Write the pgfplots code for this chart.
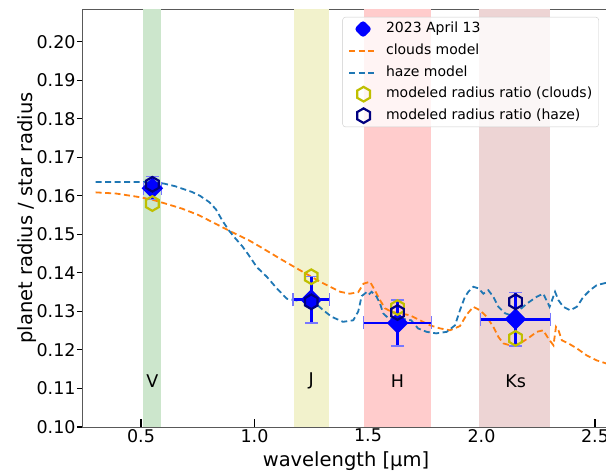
\documentclass[border=0pt]{standalone}
\usepackage{fontspec}
\setmainfont{DejaVu Sans}
\usepackage{pgfplots}
\pgfplotsset{compat=1.18}

\definecolor{cloudsorange}{HTML}{FF7F0E}
\definecolor{hazeblue}{HTML}{1F77B4}
\definecolor{hexyellow}{RGB}{191,191,0}
\definecolor{hexnavy}{RGB}{0,0,128}
\definecolor{bandV}{RGB}{204,230,204}
\definecolor{bandJ}{RGB}{242,242,204}
\definecolor{bandH}{RGB}{255,204,204}
\definecolor{bandK}{RGB}{237,212,212}
\definecolor{capblue}{RGB}{120,120,255}

% open hexagon, vertex pointing up
\pgfdeclareplotmark{hexagon}{%
  \pgfpathmoveto{\pgfqpointpolar{90}{\pgfplotmarksize}}%
  \pgfpathlineto{\pgfqpointpolar{150}{\pgfplotmarksize}}%
  \pgfpathlineto{\pgfqpointpolar{210}{\pgfplotmarksize}}%
  \pgfpathlineto{\pgfqpointpolar{270}{\pgfplotmarksize}}%
  \pgfpathlineto{\pgfqpointpolar{330}{\pgfplotmarksize}}%
  \pgfpathlineto{\pgfqpointpolar{30}{\pgfplotmarksize}}%
  \pgfpathclose
  \pgfusepathqstroke
}

% observed radius ratio, 2023 April 13
\pgfplotstableread{
x     y      ex     ey
0.55  0.162  0.040  0.003
1.25  0.133  0.080  0.006
1.63  0.127  0.150  0.006
2.15  0.128  0.155  0.007
}\observed

\pgfplotstableread{
x     y
0.55  0.158
1.25  0.139
1.63  0.131
2.15  0.123
}\modclouds

\pgfplotstableread{
x     y
0.55  0.163
1.25  0.1325
1.63  0.1297
2.15  0.1325
}\modhaze

\pgfplotstableread{
x      y
0.300  0.1609
0.390  0.1606
0.490  0.1597
0.550  0.1590
0.607  0.1580
0.680  0.1567
0.754  0.1550
0.827  0.1528
0.900  0.1506
0.974  0.1485
1.030  0.1466
1.112  0.1437
1.200  0.1407
1.289  0.1377
1.377  0.1351
1.420  0.1346
1.457  0.1350
1.480  0.1372
1.509  0.1377
1.530  0.1355
1.553  0.1329
1.575  0.1308
1.604  0.1299
1.640  0.1295
1.685  0.1290
1.729  0.1277
1.773  0.1264
1.817  0.1256
1.861  0.1251
1.905  0.1262
1.935  0.1292
1.964  0.1312
1.993  0.1303
2.023  0.1286
2.052  0.1260
2.074  0.1234
2.096  0.1217
2.126  0.1212
2.170  0.1217
2.214  0.1234
2.243  0.1247
2.272  0.1251
2.294  0.1230
2.317  0.1212
2.328  0.1260
2.339  0.1251
2.354  0.1225
2.383  0.1217
2.420  0.1204
2.463  0.1186
2.507  0.1173
2.560  0.1163
}\cloudsmodel

\pgfplotstableread{
x      y
0.300  0.1636
0.400  0.1636
0.500  0.1636
0.550  0.1635
0.600  0.1632
0.650  0.1625
0.700  0.1615
0.725  0.1610
0.760  0.1600
0.800  0.1584
0.830  0.1565
0.857  0.1537
0.886  0.1511
0.915  0.1490
0.945  0.1470
0.970  0.1450
1.010  0.1415
1.054  0.1390
1.098  0.1360
1.142  0.1333
1.190  0.1328
1.237  0.1332
1.270  0.1320
1.303  0.1303
1.340  0.1286
1.390  0.1273
1.435  0.1277
1.457  0.1300
1.472  0.1340
1.490  0.1348
1.500  0.1342
1.516  0.1351
1.538  0.1338
1.553  0.1320
1.567  0.1295
1.590  0.1282
1.620  0.1280
1.660  0.1280
1.690  0.1277
1.720  0.1256
1.758  0.1247
1.800  0.1243
1.847  0.1247
1.883  0.1264
1.905  0.1303
1.927  0.1338
1.942  0.1351
1.964  0.1364
1.986  0.1360
2.008  0.1346
2.030  0.1355
2.052  0.1338
2.074  0.1312
2.104  0.1295
2.130  0.1290
2.160  0.1300
2.199  0.1320
2.243  0.1338
2.272  0.1346
2.300  0.1312
2.324  0.1351
2.339  0.1329
2.360  0.1312
2.390  0.1303
2.420  0.1312
2.449  0.1338
2.478  0.1355
2.507  0.1368
2.560  0.1376
}\hazemodel

\begin{document}
\begin{tikzpicture}
\useasboundingbox (0,0) rectangle (606bp,475bp);
\begin{axis}[
  at={(82bp,48bp)}, anchor=south west,
  scale only axis, width=528bp, height=418bp,
  xmin=0.24, xmax=2.566, ymin=0.10, ymax=0.2085,
  axis line style={black!65, line width=0.9bp},
  tick pos=left,
  xtick={0.5,1.0,1.5,2.0,2.5},
  ytick={0.10,0.11,...,0.205},
  xtick align=inside, ytick align=outside,
  major tick style={black, line width=1.1bp},
  xtick style={/pgfplots/major tick length=8bp},
  ytick style={/pgfplots/major tick length=5bp},
  /pgf/number format/assume math mode=true,
  xticklabel style={/pgf/number format/.cd, fixed, fixed zerofill, precision=1},
  yticklabel style={/pgf/number format/.cd, fixed, fixed zerofill, precision=2},
  tick label style={font=\fontsize{17.5bp}{21bp}\selectfont, inner sep=2bp},
  label style={font=\fontsize{19.5bp}{23bp}\selectfont},
  xlabel style={yshift=-4bp},
  ylabel shift=-5bp,
  xlabel={wavelength [µm]},
  ylabel={planet radius / star radius},
  legend cell align=left,
  legend style={
    at={(rel axis cs:0.979,0.981)}, anchor=north east,
    font=\fontsize{14bp}{16bp}\selectfont,
    draw=black!20, rounded corners=3bp,
    fill=white, fill opacity=0.8, text opacity=1,
    inner xsep=5bp, inner ysep=3bp,
    row sep=5bp,
    nodes={inner sep=1.5bp, text height=10.5bp, text depth=3bp},
  },
]

% photometric bands
\addplot[draw=none, fill=bandV, forget plot] coordinates {(0.507,0.10) (0.588,0.10) (0.588,0.2085) (0.507,0.2085)} -- cycle;
\addplot[draw=none, fill=bandJ, forget plot] coordinates {(1.173,0.10) (1.330,0.10) (1.330,0.2085) (1.173,0.2085)} -- cycle;
\addplot[draw=none, fill=bandH, forget plot] coordinates {(1.481,0.10) (1.776,0.10) (1.776,0.2085) (1.481,0.2085)} -- cycle;
\addplot[draw=none, fill=bandK, forget plot] coordinates {(1.989,0.10) (2.300,0.10) (2.300,0.2085) (1.989,0.2085)} -- cycle;

\node[font=\fontsize{17.5bp}{21bp}\selectfont] at (axis cs:0.55,0.112) {V};
\node[font=\fontsize{17.5bp}{21bp}\selectfont] at (axis cs:1.25,0.112) {J};
\node[font=\fontsize{17.5bp}{21bp}\selectfont] at (axis cs:1.63,0.112) {H};
\node[font=\fontsize{17.5bp}{21bp}\selectfont] at (axis cs:2.15,0.112) {Ks};

% model spectra
\addplot[cloudsorange, line width=1.8bp, dash pattern=on 6bp off 3.5bp, forget plot] table[x=x,y=y] {\cloudsmodel};
\addplot[hazeblue, line width=1.8bp, dash pattern=on 6bp off 3.5bp, forget plot] table[x=x,y=y] {\hazemodel};

% observations
\addplot[blue, line width=2.6bp, only marks, mark=square*, mark size=6.3bp,
  mark options={rotate=45, draw=none, fill=blue},
  forget plot,
  error bars/.cd, x dir=both, x explicit, y dir=both, y explicit,
  error bar style={line width=2.8bp, color=blue, solid},
  error mark options={rotate=90, line width=1.3bp, mark size=6.5bp, color=capblue}]
  table[x=x, y=y, x error=ex, y error=ey] {\observed};

% modelled radius ratios
\addplot[hexyellow, only marks, mark=hexagon, mark size=7.3bp, mark options={line width=2.2bp}, forget plot] table[x=x,y=y] {\modclouds};
\addplot[hexnavy, only marks, mark=hexagon, mark size=7.3bp, mark options={line width=2.2bp}, forget plot] table[x=x,y=y] {\modhaze};

% legend entries (the invisible path fixes the width of the image column)
\addlegendimage{legend image code/.code={\path[draw=none, fill=none] (0,0) -- (37bp,0); \fill[blue, fill opacity=1, draw=none] (15.5bp,0) ++(0,8.9bp) -- ++(8.9bp,-8.9bp) -- ++(-8.9bp,-8.9bp) -- ++(-8.9bp,8.9bp) -- cycle;}}
\addlegendentry{2023 April 13}
\addlegendimage{legend image code/.code={\path[draw=none, fill=none] (0,0) -- (37bp,0); \draw[cloudsorange, draw opacity=1, line width=2bp, dash pattern=on 6bp off 3.5bp] (1.5bp,0.5bp) -- (28.5bp,0.5bp);}}
\addlegendentry{clouds model}
\addlegendimage{legend image code/.code={\path[draw=none, fill=none] (0,0) -- (37bp,0); \draw[hazeblue, draw opacity=1, line width=2bp, dash pattern=on 6bp off 3.5bp] (1.5bp,0) -- (28.5bp,0);}}
\addlegendentry{haze model}
\addlegendimage{legend image code/.code={\path[draw=none, fill=none] (0,0) -- (37bp,0); \draw[hexyellow, draw opacity=1, line width=2.2bp] plot[mark=hexagon, mark size=7.3bp] coordinates {(16bp,0)};}}
\addlegendentry{modeled radius ratio (clouds)}
\addlegendimage{legend image code/.code={\path[draw=none, fill=none] (0,0) -- (37bp,0); \draw[hexnavy, draw opacity=1, line width=2.2bp] plot[mark=hexagon, mark size=7.3bp] coordinates {(16bp,0)};}}
\addlegendentry{modeled radius ratio (haze)}
\end{axis}
\end{tikzpicture}
\end{document}
